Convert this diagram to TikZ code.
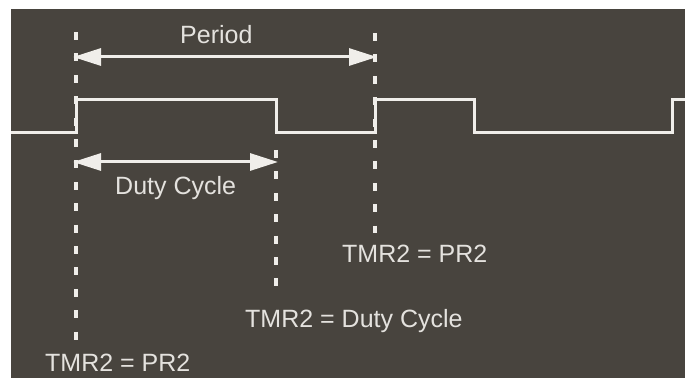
\documentclass[tikz,border=0pt]{standalone}
\usepackage{fontspec}
\setmainfont{Liberation Sans}
\usetikzlibrary{arrows.meta}
\definecolor{bgdark}{RGB}{72,68,62}
\definecolor{fg}{RGB}{240,238,234}
\definecolor{txt}{RGB}{228,226,222}
\begin{document}
\begin{tikzpicture}[x=1pt,y=1pt,
  wave/.style={draw=fg,line width=3pt},
  guide/.style={draw=fg,line width=4pt,dash pattern=on 8pt off 13.4pt},
  dim/.style={draw=fg,line width=3pt,{Triangle[length=28pt,width=17pt]}-{Triangle[length=28pt,width=17pt]}},
  lbl/.style={text=txt,inner sep=0pt,anchor=base west,font=\fontsize{25}{30}\selectfont}]
\useasboundingbox (0,0) rectangle (685,378);
\fill[white] (0,0) rectangle (685,378);
\fill[bgdark] (11,0) rectangle (685,369);
% guide lines
\coordinate (g1t) at (76,346); \coordinate (g1b) at (76,38);
\coordinate (g2t) at (276,228); \coordinate (g2b) at (276,80);
\coordinate (g3t) at (375,345); \coordinate (g3b) at (375,145);
\draw[guide] (g1t) -- (g1b);
\draw[guide] (g2t) -- (g2b);
\draw[guide] (g3t) -- (g3b);
% waveform
\draw[wave] (11,245) -- (76,245) -- (76,278) -- (276,278) -- (276,245) -- (375,245) -- (375,278) -- (474,278) -- (474,245) -- (672,245) -- (672,278) -- (686,278);
% dimension arrows
\coordinate (pl) at (73,321); \coordinate (pr) at (377,321);
\coordinate (dl) at (73,216); \coordinate (dr) at (278,216);
\draw[dim] (pl) -- (pr);
\draw[dim] (dl) -- (dr);
% labels
\node[lbl] (period) at (180,334) {Period};
\node[lbl] (duty) at (115,184) {Duty Cycle};
\node[lbl] (t1) at (342,116) {TMR2 = PR2};
\node[lbl] (t2) at (245,51) {TMR2 = Duty Cycle};
\node[lbl] (t3) at (45,7) {TMR2 = PR2};
\end{tikzpicture}
\end{document}
